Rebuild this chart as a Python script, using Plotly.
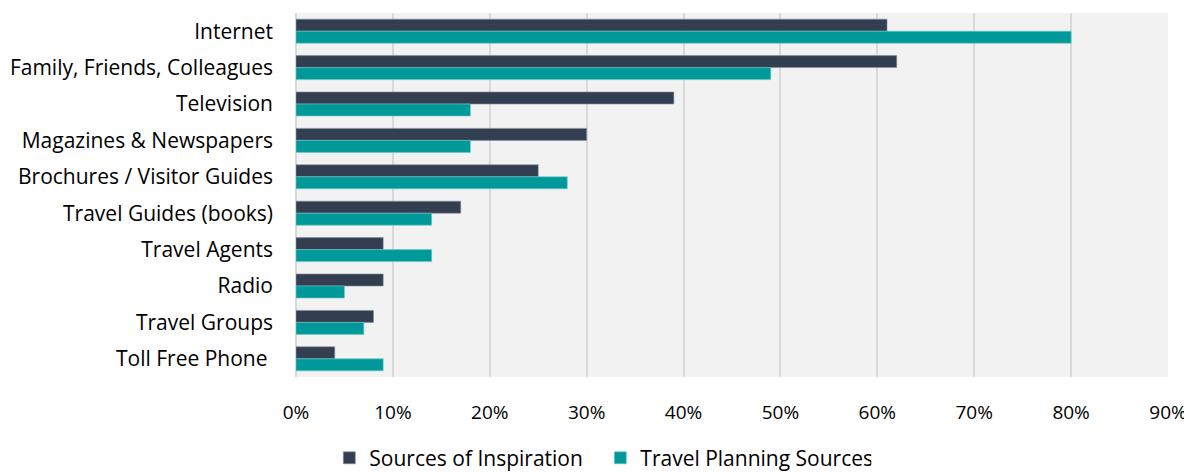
import plotly.graph_objects as go

categories = [
    "Internet",
    "Family, Friends, Colleagues",
    "Television",
    "Magazines & Newspapers",
    "Brochures / Visitor Guides",
    "Travel Guides (books)",
    "Travel Agents",
    "Radio",
    "Travel Groups",
    "Toll Free Phone\u00a0",
]
inspiration = [0.61, 0.62, 0.39, 0.30, 0.25, 0.17, 0.09, 0.09, 0.08, 0.04]
planning = [0.80, 0.49, 0.18, 0.18, 0.28, 0.14, 0.14, 0.05, 0.07, 0.09]
x_ticks = [0, 0.1, 0.2, 0.3, 0.4, 0.5, 0.6, 0.7, 0.8, 0.9]

font_family = "'Open Sans', Lato, sans-serif"

fig = go.Figure()
fig.add_trace(go.Bar(
    y=categories, x=inspiration, orientation="h",
    name="Sources of Inspiration",
    marker=dict(color="#333F50", line=dict(color="#8090A0", width=0.6)),
))
fig.add_trace(go.Bar(
    y=categories, x=planning, orientation="h",
    name="Travel Planning Sources",
    marker=dict(color="#009999", line=dict(color="#6CC8C8", width=0.6)),
))

# page body has an 8px margin, so margins are offset to land the plot in place
fig.update_layout(
    width=1192, height=472,
    margin=dict(l=288, r=32, t=5, b=103, autoexpand=False),
    barmode="group",
    bargap=0.34,
    bargroupgap=0,
    plot_bgcolor="#F2F2F2",
    paper_bgcolor="white",
    font=dict(family=font_family, size=19, color="#000000"),
    showlegend=True,
    legend=dict(
        orientation="h",
        x=0.349, xanchor="center",
        y=-0.223, yanchor="middle",
        font=dict(size=21),
        entrywidth=226,
        traceorder="normal",
    ),
)
fig.update_xaxes(
    range=[0, 0.9],
    tickvals=x_ticks,
    tickformat=".0%",
    tickfont=dict(size=19),
    showgrid=True, gridcolor="#D9D9D9", gridwidth=2,
    zeroline=True, zerolinecolor="#D9D9D9", zerolinewidth=2,
    showline=False,
    automargin=False,
    ticklabelstandoff=22,
)
fig.update_yaxes(
    autorange="reversed",
    tickfont=dict(size=21),
    showgrid=False,
    showline=False,
    automargin=False,
    ticklabelstandoff=22,
)

fig.write_html("out.html")
